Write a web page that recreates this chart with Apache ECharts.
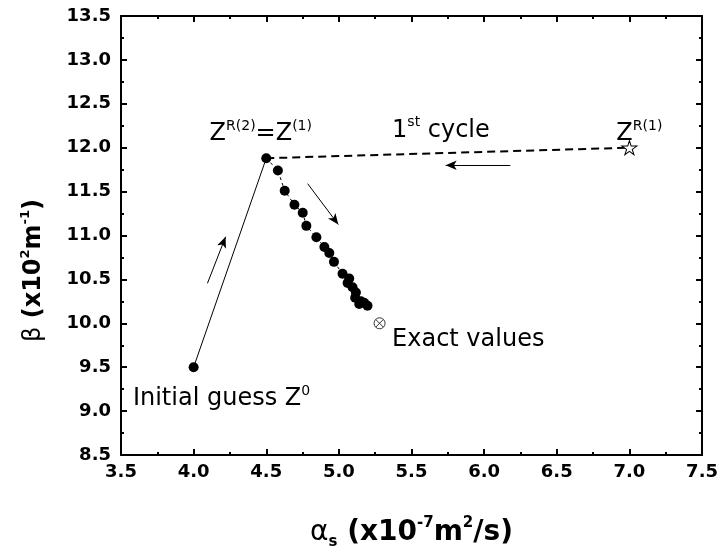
<!DOCTYPE html>
<html>
<head>
<meta charset="utf-8">
<script src="https://cdn.jsdelivr.net/npm/echarts@6/dist/echarts.min.js"></script>
<style>
html,body{margin:0;padding:0;background:#fff;}
#c{width:721px;height:555px;}
</style>
</head>
<body>
<div id="c"></div>
<script>
// ---- data ----
const xTicks = [3.5, 4.0, 4.5, 5.0, 5.5, 6.0, 6.5, 7.0, 7.5];
const yTicks = [8.5, 9.0, 9.5, 10.0, 10.5, 11.0, 11.5, 12.0, 12.5, 13.0, 13.5];
const initialGuess = [4.0, 9.5];
const reflected1 = [7.0, 12.0];
const exactValues = [5.28, 10.0];
const iterAlpha = [4.5, 4.58, 4.627, 4.694, 4.751, 4.776, 4.845, 4.90, 4.934, 4.966, 5.025, 5.071, 5.06, 5.094, 5.117, 5.112, 5.151, 5.174, 5.14, 5.197];
const iterBeta  = [11.88, 11.74, 11.51, 11.35, 11.26, 11.11, 10.98, 10.87, 10.80, 10.70, 10.565, 10.51, 10.46, 10.41, 10.35, 10.29, 10.25, 10.235, 10.22, 10.20];

const iterPts = iterAlpha.map((a, i) => [a, iterBeta[i]]);
const z1 = iterPts[0];

const chart = echarts.init(document.getElementById('c'));
const FONT = 'DejaVu Sans';

function axisCommon(show) {
  return {
    type: 'value',
    axisLine: { show: true, onZero: false, lineStyle: { color: '#000', width: 2 } },
    axisTick: { show: true, inside: true, length: 6, lineStyle: { color: '#000', width: 2 } },
    minorTick: { show: true, splitNumber: 2, length: 3, lineStyle: { color: '#000', width: 2 } },
    splitLine: { show: false },
    axisLabel: {
      show: show, color: '#000', fontFamily: FONT, fontWeight: 'bold', fontSize: 18,
      formatter: v => v.toFixed(1)
    }
  };
}

const arrows = [
  [[4.095, 10.455], [4.22, 10.985]],
  [[4.785, 11.59], [4.996, 11.125]],
  [[6.18, 11.80], [5.735, 11.80]]
];

const option = {
  animation: false,
  backgroundColor: '#fff',
  grid: { left: 121, right: 17, top: 16, bottom: 99 },
  xAxis: [
    Object.assign(axisCommon(true), {
      min: xTicks[0], max: xTicks[xTicks.length - 1], interval: 0.5, position: 'bottom',
      axisLabel: Object.assign(axisCommon(true).axisLabel, { margin: 8 }),
      name: '{g|α}{sub|s}{b| (x10}{sup|-7}{b|m}{sup|2}{b|/s)}',
      nameLocation: 'middle', nameGap: 61,
      nameTextStyle: {
        rich: {
          g: { fontFamily: FONT, fontSize: 28, color: '#000', lineHeight: 34 },
          b: { fontFamily: FONT, fontSize: 28, fontWeight: 'bold', color: '#000', lineHeight: 34 },
          sup: { fontFamily: FONT, fontSize: 15, fontWeight: 'bold', color: '#000', lineHeight: 16, verticalAlign: 'top' },
          sub: { fontFamily: FONT, fontSize: 15, fontWeight: 'bold', color: '#000', lineHeight: 16, verticalAlign: 'bottom' }
        }
      }
    }),
    Object.assign(axisCommon(false), {
      min: xTicks[0], max: xTicks[xTicks.length - 1], interval: 0.5, position: 'top'
    })
  ],
  yAxis: [
    Object.assign(axisCommon(true), {
      min: yTicks[0], max: yTicks[yTicks.length - 1], interval: 0.5, position: 'left',
      axisLabel: Object.assign(axisCommon(true).axisLabel, { margin: 10 }),
      name: '{g|β}{b| (x10}{sup|2}{b|m}{sup|-1}{b|)}',
      nameLocation: 'middle', nameGap: 72,
      nameTextStyle: {
        padding: [0, 70, 0, 0],
        rich: {
          g: { fontFamily: FONT, fontSize: 24, color: '#000', lineHeight: 30 },
          b: { fontFamily: FONT, fontSize: 24, fontWeight: 'bold', color: '#000', lineHeight: 30 },
          sup: { fontFamily: FONT, fontSize: 13, fontWeight: 'bold', color: '#000', lineHeight: 14, verticalAlign: 'top' }
        }
      }
    }),
    Object.assign(axisCommon(false), {
      min: yTicks[0], max: yTicks[yTicks.length - 1], interval: 0.5, position: 'right'
    })
  ],
  series: [
    {
      type: 'line', data: [initialGuess, z1], symbol: 'none',
      lineStyle: { color: '#000', width: 1 }, z: 2,
      markLine: {
        silent: true, symbol: ['none', 'arrow'], symbolSize: [7, 11],
        label: { show: false },
        lineStyle: { color: '#000', width: 1, type: 'solid' },
        data: arrows.map(a => [{ coord: a[0] }, { coord: a[1] }])
      }
    },
    {
      type: 'line', data: [z1, reflected1], symbol: 'none',
      lineStyle: { color: '#000', width: 2, type: [8, 5] }, z: 2
    },
    {
      type: 'line', data: iterPts, symbol: 'circle', symbolSize: 10,
      itemStyle: { color: '#000' },
      lineStyle: { color: '#000', width: 1, type: [3, 3] }, z: 3
    },
    {
      type: 'scatter', data: [initialGuess], symbol: 'circle', symbolSize: 10,
      itemStyle: { color: '#000', opacity: 1 }, z: 4
    },
    {
      type: 'scatter', data: [reflected1],
      symbol: 'path://M50,0 L61,35 L98,35 L68,57 L79,91 L50,70 L21,91 L32,57 L2,35 L39,35 Z',
      symbolSize: [15, 14],
      itemStyle: { color: '#fff', borderColor: '#000', borderWidth: 1, opacity: 1 }, z: 4
    },
    {
      type: 'scatter', data: [exactValues],
      symbol: 'path://M0,10 A10,10 0 1,1 20,10 A10,10 0 1,1 0,10 Z M3,3 L17,17 M17,3 L3,17',
      symbolSize: 11,
      itemStyle: { color: '#fff', borderColor: '#333', borderWidth: 1, opacity: 1 }, z: 4
    }
  ]
};
chart.setOption(option);

// ---- text annotations placed through the axis scales ----
const main = { fontFamily: FONT, fontSize: 24, fill: '#000', lineHeight: 30 };
const sup = { fontFamily: FONT, fontSize: 14, fill: '#000', lineHeight: 14, verticalAlign: 'top' };
const annos = [
  { at: [4.11, 12.155], text: '{m|Z}{s|R(2)}{m|=Z}{s|(1)}' },
  { at: [5.366, 12.195], text: '{m|1}{s|st}{m| cycle}' },
  { at: [6.91, 12.155], text: '{m|Z}{s|R(1)}' },
  { at: [5.366, 9.815], text: '{m|Exact values}' },
  { at: [3.582, 9.135], text: '{m|Initial guess Z}{s|0}' }
];
chart.setOption({
  graphic: annos.map(a => {
    const p = chart.convertToPixel({ gridIndex: 0 }, a.at);
    return {
      type: 'text', x: p[0], y: p[1], z: 10,
      style: {
        text: a.text, align: 'left', verticalAlign: 'middle',
        rich: { m: main, s: sup }
      }
    };
  })
});
</script>
</body>
</html>
